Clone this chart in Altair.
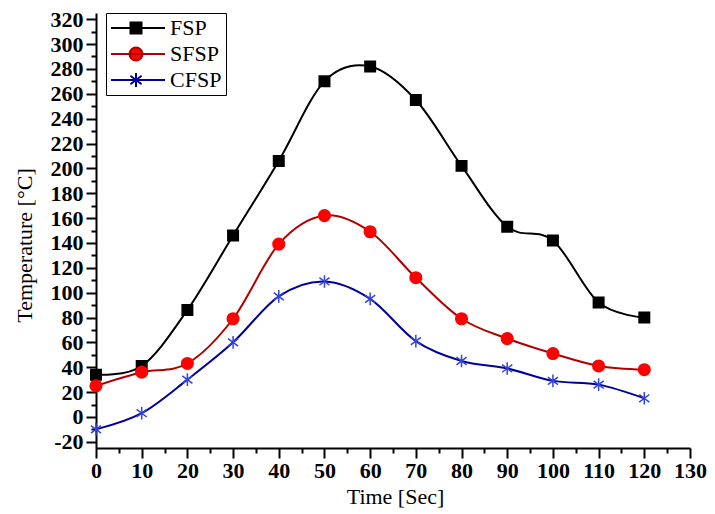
import altair as alt
import pandas as pd

time = [0, 10, 20, 30, 40, 50, 60, 70, 80, 90, 100, 110, 120]
fsp = [34, 41, 86, 146, 206, 270, 282, 255, 202, 153, 142, 92, 80]
sfsp = [25, 36, 43, 79, 139, 162, 149, 112, 79, 63, 51, 41, 38]
cfsp = [-10, 3, 30, 60, 97, 109, 95, 61, 45, 39, 29, 26, 15]
series = ["FSP", "SFSP", "CFSP"]

rows = []
for name, vals in zip(series, [fsp, sfsp, cfsp]):
    for t, v in zip(time, vals):
        rows.append({"Time": t, "Temp": v, "Series": name})
df = pd.DataFrame(rows)

line_colors = ["#000000", "#B00000", "#00009A"]
marker_colors = ["#000000", "#FF0000", "#3344DD"]
legend_fill = ["#000000", "#FF0000", "transparent"]
star = "M0,-1V1M-0.8,-0.6L0.8,0.6M-0.8,0.6L0.8,-0.6"
shapes = ["square", "circle", star]

# legend glyphs: line segment with marker (unit = 10 px)
leg_fsp = "M-1,0H4.4M0.95,-0.55H2.05V0.55H0.95Z"
leg_sfsp = "M-1,0H4.4M2.15,0A0.65,0.65 0 1,1 0.85,0A0.65,0.65 0 1,1 2.15,0Z"
leg_cfsp = "M-1,0H4.4M1.5,-0.7V0.7M0.94,-0.42L2.06,0.42M0.94,0.42L2.06,-0.42"
legend_shapes = [leg_fsp, leg_sfsp, leg_cfsp]

FONT = "Liberation Serif"
FS = 22

x_scale = alt.Scale(domain=[0, 130], nice=False, zero=False)
y_scale = alt.Scale(domain=[-25, 325], nice=False, zero=False)

x_axis = alt.Axis(
    title="Time [Sec]",
    values=list(range(0, 131, 5)),
    labelExpr="datum.value % 10 == 0 ? '' + datum.value : ''",
    tickSize={"condition": {"test": "datum.value % 10 == 0", "value": 10}, "value": 5},
    labelFontSize={"condition": {"test": "datum.value % 10 == 0", "value": FS}, "value": 1},
    labelOverlap=False,
    labelFlush=False,
    labelPadding=2,
    titleX=299,
    titleY=55,
    titleBaseline="alphabetic",
    titleAlign="center",
    grid=False,
)
y_axis = alt.Axis(
    title="Temperature [°C]",
    values=list(range(-20, 321, 10)),
    labelExpr="datum.value % 20 == 0 ? '' + datum.value : ''",
    tickSize={"condition": {"test": "datum.value % 20 == 0", "value": 10}, "value": 5},
    labelFontSize={"condition": {"test": "datum.value % 20 == 0", "value": FS}, "value": 1},
    labelOverlap=False,
    labelFlush=False,
    labelPadding=3,
    titleX=-65,
    titleY=232,
    titleAngle=-90,
    titleBaseline="alphabetic",
    titleAlign="center",
    grid=False,
)

legend = alt.Legend(
    title=None,
    orient="none",
    legendX=10,
    legendY=0,
    direction="vertical",
    symbolSize=400,
    symbolStrokeWidth=2,
    symbolOpacity=1,
    labelFont=FONT,
    labelFontSize=FS,
    labelColor="black",
    labelOffset=38,
    padding=4,
    rowPadding=4,
    strokeColor="black",
    fillColor="white",
)

base = alt.Chart(df)
X = alt.X("Time:Q", scale=x_scale, axis=x_axis)
Y = alt.Y("Temp:Q", scale=y_scale, axis=y_axis)

lines = base.mark_line(interpolate="cardinal", strokeWidth=2).encode(
    x=X,
    y=Y,
    color=alt.Color("Series:N", sort=series, scale=alt.Scale(domain=series, range=line_colors), legend=None),
    detail="Series:N",
)

points = base.mark_point(filled=True, strokeWidth=1.5, opacity=1).encode(
    x=X,
    y=Y,
    shape=alt.Shape("Series:N", sort=series, scale=alt.Scale(domain=series, range=shapes), legend=None),
    fill=alt.Fill("Series:N", sort=series, scale=alt.Scale(domain=series, range=marker_colors), legend=None),
    stroke=alt.Stroke("Series:N", sort=series, scale=alt.Scale(domain=series, range=marker_colors), legend=None),
    size=alt.Size("Series:N", sort=series, scale=alt.Scale(domain=series, range=[110, 160, 190]), legend=None),
)

legend_layer = base.transform_filter("false").mark_point(filled=True, strokeWidth=2, opacity=1).encode(
    x=X,
    y=Y,
    shape=alt.Shape("Series:N", sort=series, scale=alt.Scale(domain=series, range=legend_shapes), legend=legend),
    fill=alt.Fill("Series:N", sort=series, scale=alt.Scale(domain=series, range=legend_fill), legend=legend),
    stroke=alt.Stroke("Series:N", sort=series, scale=alt.Scale(domain=series, range=line_colors), legend=legend),
)

chart = (
    alt.layer(lines, points, legend_layer)
    .resolve_scale(shape="independent", fill="independent", stroke="independent", size="independent")
    .properties(
        width=594,
        height=435,
        autosize=alt.AutoSizeParams(type="none"),
        padding={"left": 88, "top": 5, "right": 17, "bottom": 62},
        background="white",
    )
    .configure_view(strokeWidth=0)
    .configure_axis(
        domainColor="black",
        domainWidth=2,
        tickColor="black",
        tickWidth=2,
        labelFont=FONT,
        labelFontWeight="bold",
        labelColor="black",
        labelOverlap=False,
        titleFont=FONT,
        titleFontSize=FS,
        titleFontWeight="normal",
        titleColor="black",
    )
)

chart.save("out.html", embed_options={"renderer": "svg", "actions": False})
